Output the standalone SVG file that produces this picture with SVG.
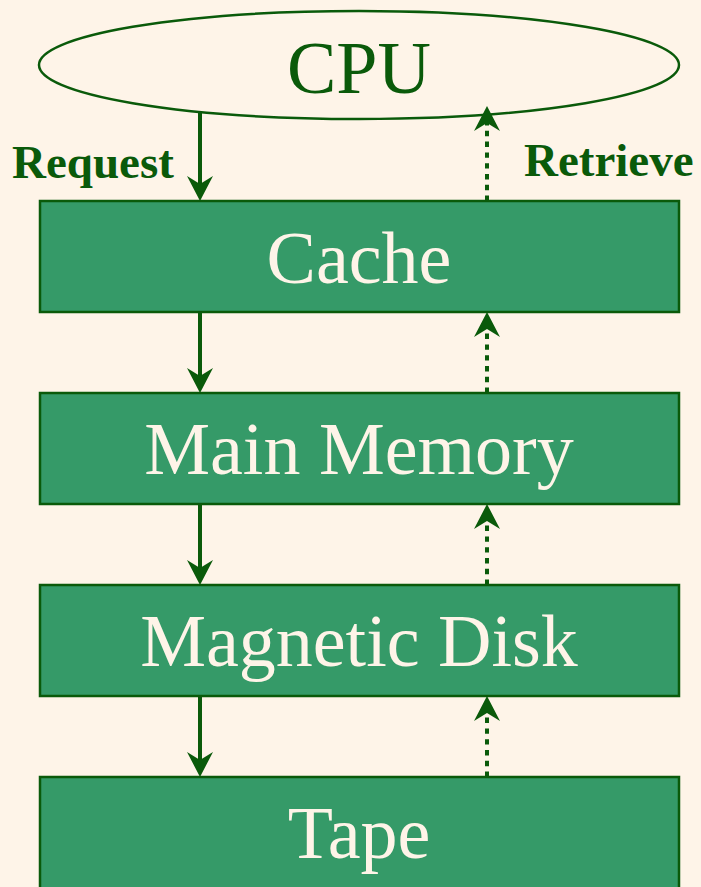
<svg xmlns="http://www.w3.org/2000/svg" xmlns:xlink="http://www.w3.org/1999/xlink" width="701" height="887" viewBox="0 0 701 887">
  <style>
    .box { fill: #359a68; stroke: #0a5a0a; stroke-width: 2.5; }
    .cpu { fill: none; stroke: #0a5a0a; stroke-width: 2.5; }
    .big { font-family: "Liberation Serif", "Times New Roman", serif; font-size: 74px; text-anchor: middle; }
    .lbl { fill: #fef4e8; }
    .side { font-family: "Liberation Serif", "Times New Roman", serif; font-size: 47px; font-weight: bold; fill: #0a5a0a; }
    .req { fill: none; stroke: #0a5a0a; stroke-width: 4; }
    .ret { fill: none; stroke: #0a5a0a; stroke-width: 4; stroke-dasharray: 5.4 5.4; }
    .head { fill: #0a5a0a; }
  </style>
  <defs>
    <!-- stealth-style arrowhead, tip at origin, pointing down -->
    <path id="tipDown" d="M0,0 L-13,-25 L0,-17 L13,-25 Z"/>
  </defs>
  <rect width="701" height="887" fill="#fef4e8"/>

  <g id="cpu">
    <ellipse class="cpu" cx="359" cy="65" rx="320" ry="54"/>
    <text class="big" x="359" y="93" fill="#0a5a0a">CPU</text>
  </g>
  <g id="cache">
    <rect class="box" x="40" y="201" width="639" height="111"/>
    <text class="big lbl" x="359" y="283">Cache</text>
  </g>
  <g id="main-memory">
    <rect class="box" x="40" y="393" width="639" height="111"/>
    <text class="big lbl" x="359" y="474">Main Memory</text>
  </g>
  <g id="magnetic-disk">
    <rect class="box" x="40" y="585" width="639" height="111"/>
    <text class="big lbl" x="359" y="666">Magnetic Disk</text>
  </g>
  <g id="tape">
    <rect class="box" x="40" y="777" width="639" height="130"/>
    <text class="big lbl" x="359" y="858">Tape</text>
  </g>

  <g id="connectors">
    <!-- request path, downward -->
    <line class="req" x1="200" y1="112" x2="200" y2="186"/>
    <use href="#tipDown" xlink:href="#tipDown" class="head" transform="translate(200,201)"/>
    <line class="req" x1="200" y1="312" x2="200" y2="378"/>
    <use href="#tipDown" xlink:href="#tipDown" class="head" transform="translate(200,393)"/>
    <line class="req" x1="200" y1="504" x2="200" y2="570"/>
    <use href="#tipDown" xlink:href="#tipDown" class="head" transform="translate(200,585)"/>
    <line class="req" x1="200" y1="696" x2="200" y2="762"/>
    <use href="#tipDown" xlink:href="#tipDown" class="head" transform="translate(200,777)"/>

    <!-- retrieve path, upward, dotted -->
    <line class="ret" x1="487" y1="201" x2="487" y2="121"/>
    <use href="#tipDown" xlink:href="#tipDown" class="head" transform="translate(487,106) rotate(180)"/>
    <line class="ret" x1="487" y1="393" x2="487" y2="327"/>
    <use href="#tipDown" xlink:href="#tipDown" class="head" transform="translate(487,312) rotate(180)"/>
    <line class="ret" x1="487" y1="585" x2="487" y2="519"/>
    <use href="#tipDown" xlink:href="#tipDown" class="head" transform="translate(487,504) rotate(180)"/>
    <line class="ret" x1="487" y1="777" x2="487" y2="711"/>
    <use href="#tipDown" xlink:href="#tipDown" class="head" transform="translate(487,696) rotate(180)"/>

    <text class="side" x="12" y="178">Request</text>
    <text class="side" x="524" y="176">Retrieve</text>
  </g>
</svg>
